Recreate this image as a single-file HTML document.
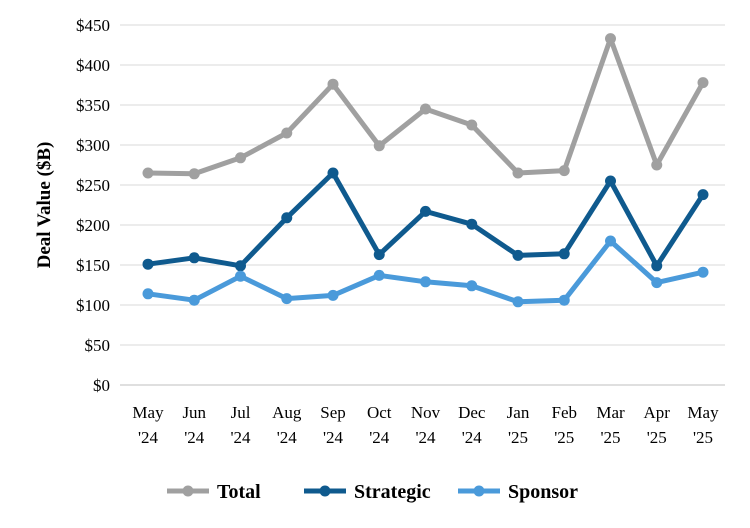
<!DOCTYPE html>
<html><head><meta charset="utf-8"><style>
body{margin:0;background:#fff;font-family:"Liberation Serif",serif;}
svg{display:block}
</style></head><body>
<svg id="chart" width="750" height="528"></svg>
<script>
const categories=["May|'24","Jun|'24","Jul|'24","Aug|'24","Sep|'24","Oct|'24","Nov|'24","Dec|'24","Jan|'25","Feb|'25","Mar|'25","Apr|'25","May|'25"];
const totalValues=[265,264,284,315,376,299,345,325,265,268,433,275,378];
const strategicValues=[151,159,149,209,265,163,217,201,162,164,255,149,238];
const sponsorValues=[114,106,136,108,112,137,129,124,104,106,180,128,141];
const yTicks=[0,50,100,150,200,250,300,350,400,450];
const seriesNames=["Total","Strategic","Sponsor"];
const svg=document.getElementById('chart');
const NS="http://www.w3.org/2000/svg";
function mk(t,a,p){const e=document.createElementNS(NS,t);for(const k in a)e.setAttribute(k,a[k]);(p||svg).appendChild(e);return e;}
const y=v=>385-v*0.8;
const x=i=>148+i*46.25;
yTicks.forEach(t=>{
  const g=mk('line',{x1:120,x2:725,y1:y(t),y2:y(t),stroke:t===0?'#bfbfbf':'#d9d9d9','stroke-width':1});
  
  
  const l=mk('text',{x:110,y:y(t)+6,'text-anchor':'end','font-size':17,fill:'#000'});
  l.textContent='$'+t;
  
  
});
categories.forEach((c,i)=>{
  const p=c.split('|');
  const t=mk('text',{x:x(i),y:418,'text-anchor':'middle','font-size':17,fill:'#000'});
  t.textContent=p[0];
  
  
  const t2=mk('text',{x:x(i),y:443,'text-anchor':'middle','font-size':17,fill:'#000'});
  t2.textContent=p[1];
  
  
});
const yt=mk('text',{x:0,y:0,transform:'translate(50,205) rotate(-90)','text-anchor':'middle','font-size':19,'font-weight':'bold'});
yt.textContent='Deal Value ($B)';


const colors=['#a0a0a0','#0f5a8e','#4a9ada'];
[totalValues,strategicValues,sponsorValues].forEach((vals,s)=>{
  const pl=mk('polyline',{points:vals.map((v,i)=>x(i)+','+y(v)).join(' '),fill:'none',stroke:colors[s],'stroke-width':5,'stroke-linejoin':'round'});
  
  
  vals.forEach((v,i)=>{
    const c=mk('circle',{cx:x(i),cy:y(v),r:5.5,fill:colors[s]});
    
    
  });
});
const lx=[167,304,458];
seriesNames.forEach((n,s)=>{
  const g=mk('g',{});
  
  
  mk('line',{x1:lx[s],x2:lx[s]+42,y1:491,y2:491,stroke:colors[s],'stroke-width':5},g);
  mk('circle',{cx:lx[s]+21,cy:491,r:5.5,fill:colors[s]},g);
  const t=mk('text',{x:lx[s]+50,y:498,'font-size':20,'font-weight':'bold'},g);
  t.textContent=n;
});
</script>
</body></html>
